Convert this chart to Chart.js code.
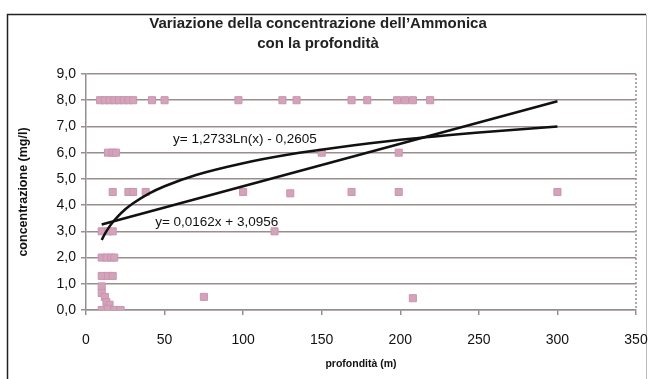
<!DOCTYPE html>
<html>
<head>
<meta charset="utf-8">
<script src="https://cdn.jsdelivr.net/npm/chart.js@4/dist/chart.umd.min.js"></script>
<style>
  html, body { margin: 0; padding: 0; background: #fff; }
  #wrap { position: relative; width: 649px; height: 379px; }
</style>
</head>
<body>
<div id="wrap"><canvas id="chart-ammonica" width="649" height="379"></canvas></div>
<script>
// Dati: profondità (m) e concentrazione (mg/l)
var profondita = [9, 12, 15, 18, 21, 24, 27, 30, 42, 50, 97, 125, 134, 169, 179, 198, 203, 208, 219,
    14, 17, 19, 150, 199,
    17, 27, 30, 38, 100, 130, 169, 199, 300,
    10, 14, 17, 120,
    10, 13, 16, 18,
    10, 14, 17,
    10, 10, 12, 13, 15, 10, 14, 18, 22, 75, 208];
var concentrazione = [8, 8, 8, 8, 8, 8, 8, 8, 8, 8, 8, 8, 8, 8, 8, 8, 8, 8, 8,
    6, 6, 6, 6, 6,
    4.5, 4.5, 4.5, 4.5, 4.5, 4.45, 4.5, 4.5, 4.5,
    3, 3, 3, 3,
    2, 2, 2, 2,
    1.3, 1.3, 1.3,
    0.9, 0.65, 0.5, 0.3, 0.2, 0, 0.05, 0, 0, 0.5, 0.45];

// Linee di tendenza
var logX = [10, 12, 15, 20, 25, 30, 40, 50, 70, 100, 130, 160, 200, 250, 300];
var logY = [2.67, 2.90, 3.19, 3.55, 3.84, 4.07, 4.44, 4.72, 5.15, 5.60, 5.94, 6.20, 6.49, 6.77, 7.00];
var linX = [10, 300];
var linY = [3.26, 7.96];

var titolo = ["Variazione della concentrazione dell\u2019Ammonica", "con la profondità"];
var etichettaLog = "y= 1,2733Ln(x) - 0,2605";
var etichettaLin = "y= 0,0162x + 3,0956";

function toPoints(xs, ys) {
    var pts = [];
    for (var i = 0; i < xs.length; i++) {
        pts.push({ x: xs[i], y: ys[i] });
    }
    return pts;
}

var fontBase = "'Liberation Sans', Arial, sans-serif";
var gridColor = '#998e8e';

// cornice esterna, bordo destro tratteggiato e testo delle equazioni
var extras = {
    id: 'extras',
    beforeDraw: function (chart) {
        var ctx = chart.ctx;
        ctx.save();
        ctx.fillStyle = '#fff';
        ctx.fillRect(0, 0, chart.width, chart.height);
        ctx.strokeStyle = '#222';
        ctx.lineWidth = 1.5;
        ctx.beginPath();
        ctx.moveTo(7.5, chart.height);
        ctx.lineTo(7.5, 14.5);
        ctx.lineTo(646, 14.5);
        ctx.stroke();
        ctx.strokeStyle = '#bbb';
        ctx.lineWidth = 1;
        ctx.beginPath();
        ctx.moveTo(646.5, 14.5);
        ctx.lineTo(646.5, chart.height);
        ctx.stroke();
        ctx.restore();
    },
    afterDatasetsDraw: function (chart) {
        var ctx = chart.ctx;
        var area = chart.chartArea;
        var xs = chart.scales.x;
        var ys = chart.scales.y;
        ctx.save();
        ctx.strokeStyle = gridColor;
        ctx.lineWidth = 1.5;
        ctx.setLineDash([2, 2]);
        ctx.beginPath();
        ctx.moveTo(area.right, area.top);
        ctx.lineTo(area.right, area.bottom);
        ctx.stroke();
        ctx.setLineDash([]);
        ctx.fillStyle = '#111';
        ctx.font = '13.5px ' + fontBase;
        ctx.textBaseline = 'middle';
        ctx.textAlign = 'left';
        ctx.fillText(etichettaLog, xs.getPixelForValue(55.4), ys.getPixelForValue(6.5));
        ctx.fillText(etichettaLin, xs.getPixelForValue(44), ys.getPixelForValue(3.36));
        ctx.restore();
    }
};

var ctx = document.getElementById('chart-ammonica').getContext('2d');
var chartAmmonica = new Chart(ctx, {
    type: 'scatter',
    data: {
        datasets: [{
            label: 'log',
            data: toPoints(logX, logY),
            showLine: true,
            borderColor: '#111',
            borderWidth: 2.5,
            pointRadius: 0,
            cubicInterpolationMode: 'monotone'
        }, {
            label: 'lineare',
            data: toPoints(linX, linY),
            showLine: true,
            borderColor: '#111',
            borderWidth: 2.5,
            pointRadius: 0
        }, {
            label: 'Ammonica',
            data: toPoints(profondita, concentrazione),
            pointStyle: 'rect',
            pointRadius: 5,
            backgroundColor: '#d4a3ba',
            borderColor: '#c995af',
            borderWidth: 1
        }]
    },
    plugins: [extras],
    options: {
        responsive: false,
        animation: false,
        devicePixelRatio: 1,
        layout: { padding: { top: 14, right: 13, bottom: 0, left: 0 } },
        plugins: {
            legend: { display: false },
            tooltip: { enabled: false },
            title: {
                display: true,
                text: titolo,
                color: '#222',
                font: { family: fontBase, size: 15, weight: 'bold', lineHeight: '20px' },
                padding: { top: 0, bottom: 20 }
            }
        },
        scales: {
            x: {
                type: 'linear',
                min: 0,
                max: 350,
                afterFit: function (scale) {
                    scale.height = 69;
                    scale.paddingLeft = 0;
                    scale.paddingRight = 0;
                },
                ticks: {
                    stepSize: 50,
                    color: '#111',
                    padding: 17,
                    font: { family: fontBase, size: 14 }
                },
                grid: { drawOnChartArea: false, drawTicks: true, tickLength: 5, color: gridColor, lineWidth: 1.5 },
                border: { color: gridColor, width: 1.5 },
                title: {
                    display: true,
                    text: 'profondità (m)',
                    color: '#111',
                    font: { family: fontBase, size: 10.5, weight: 'bold' },
                    padding: { top: 4, bottom: 9 }
                }
            },
            y: {
                min: 0,
                max: 9,
                afterFit: function (scale) { scale.width = 86; },
                ticks: {
                    stepSize: 1,
                    color: '#111',
                    padding: 5,
                    font: { family: fontBase, size: 14 },
                    callback: function (v) { return v.toFixed(1).replace('.', ','); }
                },
                grid: { color: gridColor, lineWidth: 1.5, tickLength: 5 },
                border: { color: gridColor, width: 1.5 },
                title: {
                    display: true,
                    text: 'concentrazione (mg/l)',
                    color: '#111',
                    font: { family: fontBase, size: 12.5, weight: 'bold' },
                    padding: { top: 16, bottom: 0 }
                }
            }
        }
    }
});
</script>
</body>
</html>
